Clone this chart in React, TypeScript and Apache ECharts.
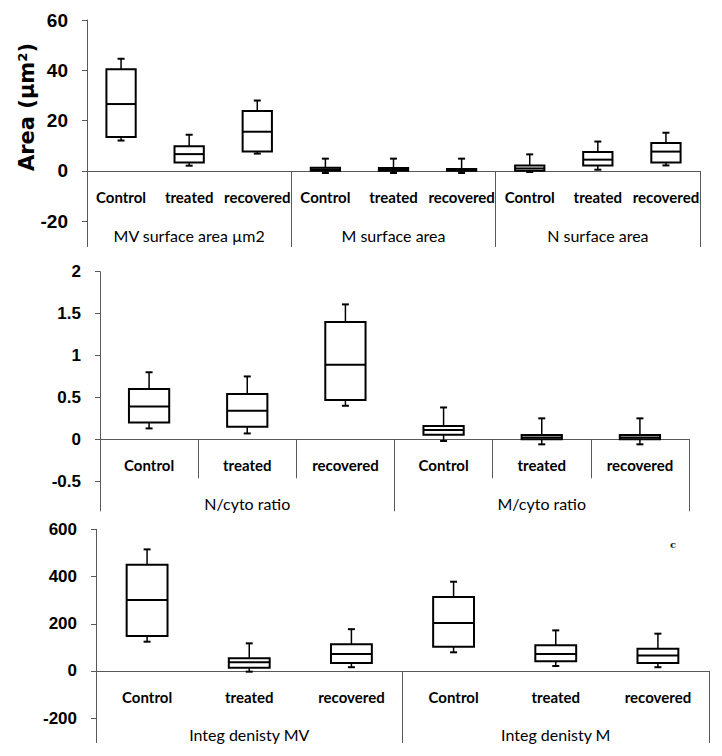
import React, { useEffect, useRef } from "react";
import * as echarts from "echarts";

// ---- data ----
const topCategories = ["Control", "treated", "recovered", "Control", "treated", "recovered", "Control", "treated", "recovered"];
const topGroups = ["MV surface area µm2", "M surface area", "N surface area"];
// [min, q1, median, q3, max]
const topStats = [
  [12.1, 13.5, 26.6, 40.4, 44.6],
  [2.1, 3.4, 6.7, 9.8, 14.4],
  [6.9, 7.7, 15.6, 23.8, 28.0],
  [-0.8, 0.1, 0.6, 1.3, 4.9],
  [-0.8, 0.1, 0.5, 1.2, 4.9],
  [-0.8, 0.05, 0.4, 0.8, 4.9],
  [-0.4, 0.1, 1.0, 2.2, 6.6],
  [0.5, 2.2, 4.5, 7.5, 11.7],
  [2.2, 3.4, 7.7, 11.1, 15.2],
];

const midCategories = ["Control", "treated", "recovered", "Control", "treated", "recovered"];
const midGroups = ["N/cyto ratio", "M/cyto ratio"];
const midStats = [
  [0.13, 0.2, 0.39, 0.6, 0.8],
  [0.07, 0.15, 0.34, 0.54, 0.75],
  [0.4, 0.47, 0.89, 1.4, 1.61],
  [-0.02, 0.055, 0.11, 0.16, 0.38],
  [-0.06, 0.0, 0.02, 0.05, 0.25],
  [-0.06, 0.0, 0.02, 0.05, 0.25],
];

const botCategories = ["Control", "treated", "recovered", "Control", "treated", "recovered"];
const botGroups = ["Integ denisty MV", "Integ denisty M"];
const botStats = [
  [124, 148, 301, 450, 515],
  [-3, 14, 37, 54, 117],
  [16, 34, 72, 113, 177],
  [79, 103, 203, 313, 378],
  [21, 41, 72, 109, 172],
  [16, 34, 66, 94, 158],
];

const yTitle = "Area (µm²)";

const W = 722;
const H = 756;
const AXIS_COLOR = "#595959";
const LABEL_FONT = "Lato, Roboto, sans-serif";
const SANS = "'Liberation Sans', Arial, sans-serif";

function makeRenderItem(ratio: number) {
  return (params: any, api: any) => {
    const x = api.value(0);
    const lo = api.coord([x, api.value(1)]);
    const q1 = api.coord([x, api.value(2)]);
    const md = api.coord([x, api.value(3)]);
    const q3 = api.coord([x, api.value(4)]);
    const hi = api.coord([x, api.value(5)]);
    const band = api.size([1, 0])[0];
    const w = band * ratio;
    const cx = lo[0];
    const cap = 3.5;
    const lineStyle = { stroke: "#000", lineWidth: 1.5 };
    const capStyle = { stroke: "#000", lineWidth: 2 };
    return {
      type: "group",
      children: [
        { type: "line", shape: { x1: cx, y1: q3[1], x2: cx, y2: hi[1] }, style: lineStyle },
        { type: "line", shape: { x1: cx, y1: q1[1], x2: cx, y2: lo[1] }, style: lineStyle },
        { type: "line", shape: { x1: cx - cap, y1: hi[1], x2: cx + cap, y2: hi[1] }, style: capStyle },
        { type: "line", shape: { x1: cx - cap, y1: lo[1], x2: cx + cap, y2: lo[1] }, style: capStyle },
        {
          type: "rect",
          shape: { x: cx - w / 2, y: q3[1], width: w, height: Math.max(q1[1] - q3[1], 0.5) },
          style: { fill: "#fff", stroke: "#000", lineWidth: 2 },
        },
        { type: "line", shape: { x1: cx - w / 2, y1: md[1], x2: cx + w / 2, y2: md[1] }, style: { stroke: "#000", lineWidth: 2 } },
      ],
    };
  };
}

const panels = [
  {
    left: 87, right: 22, top: 20, bottom: 534.7,
    cats: topCategories, groups: topGroups, stats: topStats,
    min: -20, max: 60, interval: 20, tickFont: 19,
    catTick: 0, groupTick: 76, catMargin: 19, groupMargin: 57, ratio: 0.43,
  },
  {
    left: 100, right: 33, top: 271.7, bottom: 274.8,
    cats: midCategories, groups: midGroups, stats: midStats,
    min: -0.5, max: 2, interval: 0.5, tickFont: 17,
    catTick: 39, groupTick: 72, catMargin: 18, groupMargin: 56, ratio: 0.41,
  },
  {
    left: 96, right: 13, top: 529.3, bottom: 37.8,
    cats: botCategories, groups: botGroups, stats: botStats,
    min: -200, max: 600, interval: 200, tickFont: 17,
    catTick: 0, groupTick: 72, catMargin: 19, groupMargin: 56, ratio: 0.4,
  },
];

export default function App() {
  const ref = useRef<HTMLDivElement>(null);
  useEffect(() => {
    if (!ref.current) return;
    const chart = echarts.init(ref.current, null, { renderer: "svg" });
    const grid: any[] = [];
    const xAxis: any[] = [];
    const yAxis: any[] = [];
    const series: any[] = [];
    panels.forEach((p) => {
      const height = H - p.bottom - p.top;
      const y0 = p.top + (p.max / (p.max - p.min)) * height;
      // main plotting grid
      const gMain = grid.length;
      grid.push({ left: p.left, right: p.right, top: p.top, bottom: p.bottom, containLabel: false, outerBoundsMode: "none" });
      const xMain = xAxis.length;
      xAxis.push({
        type: "category", gridIndex: gMain, data: p.cats, boundaryGap: true, show: false,
      });
      const yMain = yAxis.length;
      yAxis.push({
        type: "value",
        gridIndex: gMain,
        min: p.min,
        max: p.max,
        interval: p.interval,
        axisLine: { show: true, onZero: false, lineStyle: { color: AXIS_COLOR, width: 1 } },
        axisTick: { show: true, length: 5, lineStyle: { color: AXIS_COLOR, width: 1 } },
        axisLabel: { margin: 19, color: "#000", fontSize: p.tickFont, fontWeight: "bold", fontFamily: SANS },
        splitLine: { show: false },
      });
      series.push({
        type: "custom",
        xAxisIndex: xMain,
        yAxisIndex: yMain,
        encode: { x: 0, y: [1, 2, 3, 4, 5] },
        data: p.stats.map((s, i) => [i, ...s]),
        renderItem: makeRenderItem(p.ratio),
        clip: false,
      });
      // label grid whose bottom edge sits on the zero line
      const gLab = grid.length;
      grid.push({ left: p.left, right: p.right, top: y0 - 2, bottom: H - y0, containLabel: false, outerBoundsMode: "none" });
      xAxis.push({
        type: "category",
        gridIndex: gLab,
        data: p.cats,
        position: "bottom",
        boundaryGap: true,
        axisLine: { show: true, onZero: false, lineStyle: { color: AXIS_COLOR, width: 1 } },
        axisTick: { show: p.catTick > 0, length: p.catTick, interval: 0, lineStyle: { color: AXIS_COLOR, width: 1 } },
        axisLabel: { interval: 0, margin: p.catMargin, color: "#000", fontSize: 15, fontWeight: "bold", fontFamily: LABEL_FONT },
        splitLine: { show: false },
      });
      xAxis.push({
        type: "category",
        gridIndex: gLab,
        data: p.groups,
        position: "bottom",
        boundaryGap: true,
        axisLine: { show: false, onZero: false },
        axisTick: { show: true, length: p.groupTick, interval: 0, lineStyle: { color: AXIS_COLOR, width: 1 } },
        axisLabel: { interval: 0, margin: p.groupMargin, color: "#000", fontSize: 16, fontWeight: "normal", fontFamily: LABEL_FONT },
        splitLine: { show: false },
      });
      yAxis.push({ type: "value", gridIndex: gLab, min: 0, max: 1, show: false });
    });
    chart.setOption({
      animation: false,
      backgroundColor: "#fff",
      grid,
      xAxis,
      yAxis,
      series,
      graphic: [
        {
          type: "text",
          x: 27,
          y: 107,
          rotation: Math.PI / 2,
          style: {
            text: yTitle,
            fill: "#000",
            font: "bold 21px 'DejaVu Sans', sans-serif",
            align: "center",
            verticalAlign: "middle",
          },
        },
        {
          type: "text",
          x: 673,
          y: 544,
          style: {
            text: "c",
            fill: "#222",
            font: "bold 10px 'DejaVu Serif', serif",
            align: "center",
            verticalAlign: "middle",
          },
        },
      ],
    });
    return () => chart.dispose();
  }, []);
  return <div ref={ref} style={{ position: "fixed", left: 0, top: 0, width: W, height: H }} />;
}
